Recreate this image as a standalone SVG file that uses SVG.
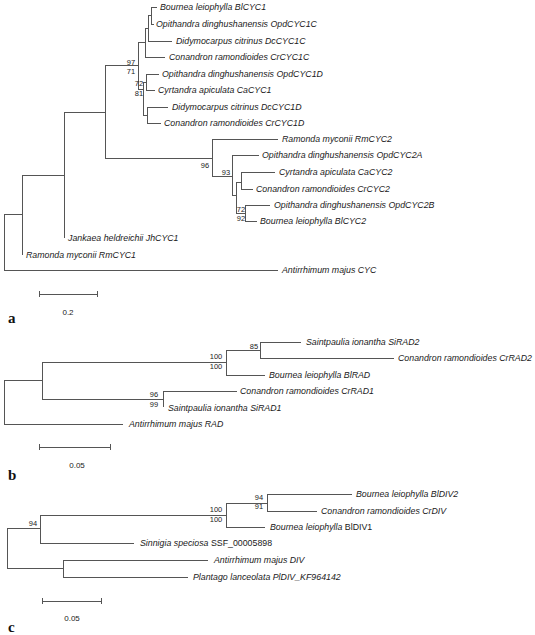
<svg xmlns="http://www.w3.org/2000/svg" width="535" height="635" viewBox="0 0 535 635">
<style>
.br{stroke:#555;stroke-width:1;fill:none;shape-rendering:crispEdges}
.lf{font-family:"Liberation Sans",Arial,sans-serif;font-size:8.8px;font-style:italic;fill:#1a1a1a}
.up{font-style:normal}
.bs{font-family:"Liberation Sans",Arial,sans-serif;font-size:7.5px;fill:#222;text-anchor:middle}
.sc{font-family:"Liberation Sans",Arial,sans-serif;font-size:8px;fill:#222;text-anchor:middle}
.pl{font-family:"Liberation Serif","Times New Roman",serif;font-size:15px;font-weight:bold;fill:#111}
</style>
<rect width="535" height="635" fill="#fff"/>
<g id="connectors" class="br">
<!-- panel a -->
<path d="M151 7V24M151 7H157M151 24H154M148 15.5H151M148 15.5V41M148 41H172M145 28H148M145 28V57M145 57H165M138 42.5H145"/>
<path d="M146 74V90M146 74H159M146 90H155M143 82H146M147 107V123M147 107H168M147 123H161M143 115H147M143 82V115M138 89H143"/>
<path d="M138 42.5V89M105 65H138M105 65V158M105 158H212M212 139V176M212 139H278"/>
<path d="M212 176H232M232 155V195M232 155H259M232 195H236M236 182V213M236 182H241M241 172V189M241 172H275M241 189H253M236 213H245M245 205V221M245 205H270M245 221H257"/>
<path d="M64 112H105M64 112V238M22 175H64M22 175V255M4 214H22M4 214V270M4 270H278"/>
<!-- scale a -->
<path d="M39 294H97M39 291V297M97 291V297"/>
<!-- panel b -->
<path d="M260 342V358M260 342H301M260 358H394M226 350H260M226 350V375M226 375H265M42 362H226M163 391V407M163 391H237M42 399H163M42 362V399M4 380H42M4 380V424M4 424H123"/>
<path d="M39 447H110M39 444V450M110 444V450"/>
<!-- panel c -->
<path d="M267 494V511M267 494H352M267 511H317M226 503H267M226 503V527M226 527H265M40 515H226M40 515V543M40 543H134M7 528H40M7 528V568M7 568H63M63 560V577M63 560H208M63 577H188"/>
<path d="M42 601H101M42 598V604M101 598V604"/>
</g>
<g id="panel-a">
<g id="a-BlCYC1"><text class="lf" x="160" y="10">Bournea leiophylla BlCYC1</text></g>
<g id="a-OpdCYC1C"><text class="lf" x="156" y="27">Opithandra dinghushanensis OpdCYC1C</text></g>
<g id="a-DcCYC1C"><text class="lf" x="176" y="44">Didymocarpus citrinus DcCYC1C</text></g>
<g id="a-CrCYC1C"><text class="lf" x="169" y="60">Conandron ramondioides CrCYC1C</text></g>
<g id="a-OpdCYC1D"><text class="lf" x="162" y="77">Opithandra dinghushanensis OpdCYC1D</text></g>
<g id="a-CaCYC1"><text class="lf" x="158" y="93">Cyrtandra apiculata CaCYC1</text></g>
<g id="a-DcCYC1D"><text class="lf" x="172" y="110">Didymocarpus citrinus DcCYC1D</text></g>
<g id="a-CrCYC1D"><text class="lf" x="164" y="126">Conandron ramondioides CrCYC1D</text></g>
<g id="a-RmCYC2"><text class="lf" x="282" y="142">Ramonda myconii RmCYC2</text></g>
<g id="a-OpdCYC2A"><text class="lf" x="262" y="158">Opithandra dinghushanensis OpdCYC2A</text></g>
<g id="a-CaCYC2"><text class="lf" x="279" y="175">Cyrtandra apiculata CaCYC2</text></g>
<g id="a-CrCYC2"><text class="lf" x="256" y="192">Conandron ramondioides CrCYC2</text></g>
<g id="a-OpdCYC2B"><text class="lf" x="274" y="208">Opithandra dinghushanensis OpdCYC2B</text></g>
<g id="a-BlCYC2"><text class="lf" x="260" y="224">Bournea leiophylla BlCYC2</text></g>
<g id="a-JhCYC1"><text class="lf" x="68" y="241">Jankaea heldreichii JhCYC1</text></g>
<g id="a-RmCYC1"><text class="lf" x="26" y="258">Ramonda myconii RmCYC1</text></g>
<g id="a-CYC"><text class="lf" x="282" y="273">Antirrhimum majus CYC</text></g>
<g id="a-support">
<text class="bs" x="131" y="65">97</text><text class="bs" x="131" y="74">71</text>
<text class="bs" x="139" y="86">72</text><text class="bs" x="139" y="96">81</text>
<text class="bs" x="205" y="168">96</text>
<text class="bs" x="226" y="175">93</text>
<text class="bs" x="241" y="212">72</text><text class="bs" x="241" y="221">92</text>
</g>
<g id="a-scale"><text class="sc" x="68" y="315">0.2</text></g>
<text class="pl" x="8" y="323">a</text>
</g>
<g id="panel-b">
<g id="b-SiRAD2"><text class="lf" x="306" y="345">Saintpaulia ionantha SiRAD2</text></g>
<g id="b-CrRAD2"><text class="lf" x="398" y="361">Conandron ramondioides CrRAD2</text></g>
<g id="b-BlRAD"><text class="lf" x="269" y="378">Bournea leiophylla BlRAD</text></g>
<g id="b-CrRAD1"><text class="lf" x="240" y="394">Conandron ramondioides CrRAD1</text></g>
<g id="b-SiRAD1"><text class="lf" x="168" y="411">Saintpaulia ionantha SiRAD1</text></g>
<g id="b-RAD"><text class="lf" x="129" y="427">Antirrhimum majus RAD</text></g>
<g id="b-support">
<text class="bs" x="254" y="349">85</text>
<text class="bs" x="216" y="359">100</text><text class="bs" x="216" y="369">100</text>
<text class="bs" x="154" y="397">96</text><text class="bs" x="154" y="407">99</text>
</g>
<g id="b-scale"><text class="sc" x="77" y="468">0.05</text></g>
<text class="pl" x="8" y="480">b</text>
</g>
<g id="panel-c">
<g id="c-BlDIV2"><text class="lf" x="356" y="497">Bournea leiophylla BlDIV2</text></g>
<g id="c-CrDIV"><text class="lf" x="321" y="514">Conandron ramondioides CrDIV</text></g>
<g id="c-BlDIV1"><text class="lf" x="270" y="530">Bournea leiophylla <tspan class="up">BlDIV1</tspan></text></g>
<g id="c-SSF"><text class="lf" x="140" y="546">Sinnigia speciosa <tspan class="up">SSF_00005898</tspan></text></g>
<g id="c-DIV"><text class="lf" x="214" y="563">Antirrhimum majus DIV</text></g>
<g id="c-PlDIV"><text class="lf" x="193" y="580">Plantago lanceolata PlDIV_KF964142</text></g>
<g id="c-support">
<text class="bs" x="33" y="526">94</text>
<text class="bs" x="216" y="512">100</text><text class="bs" x="216" y="522">100</text>
<text class="bs" x="259" y="500">94</text><text class="bs" x="259" y="509">91</text>
</g>
<g id="c-scale"><text class="sc" x="72" y="621">0.05</text></g>
<text class="pl" x="8" y="632">c</text>
</g>
</svg>
